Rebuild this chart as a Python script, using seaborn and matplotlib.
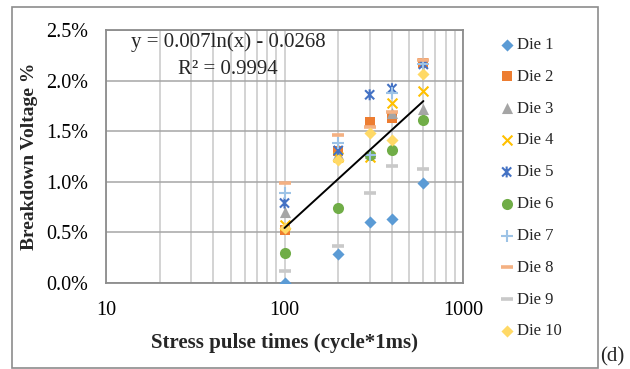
import numpy as np
import pandas as pd
import matplotlib
matplotlib.use("Agg")
import matplotlib.pyplot as plt
import seaborn as sns
from matplotlib.path import Path
from matplotlib.ticker import FuncFormatter, LogLocator, MultipleLocator, NullFormatter
from matplotlib.patches import Rectangle

sns.set_theme(style="white")
plt.rcParams["font.family"] = ["Liberation Serif", "DejaVu Serif"]

# ---- data ----
cycles = [100, 200, 300, 400, 600]
die1 = [0.0000, 0.0029, 0.0060, 0.0063, 0.0099]
die2 = [0.0052, 0.0130, 0.0159, 0.0163, 0.0217]
die3 = [0.0070, 0.0127, 0.0128, 0.0168, 0.0172]
die4 = [0.0057, 0.0125, 0.0125, 0.0178, 0.0190]
die5 = [0.0079, 0.0131, 0.0186, 0.0192, 0.0216]
die6 = [0.0030, 0.0074, 0.0126, 0.0131, 0.0161]
die7 = [0.0089, 0.0138, 0.0126, 0.0188, 0.0216]
die8 = [0.0099, 0.0146, 0.0154, 0.0169, 0.0220]
die9 = [0.0012, 0.0037, 0.0089, 0.0116, 0.0113]
die10 = [0.0054, 0.0122, 0.0148, 0.0141, 0.0207]
die_names = ["Die 1", "Die 2", "Die 3", "Die 4", "Die 5",
             "Die 6", "Die 7", "Die 8", "Die 9", "Die 10"]
trend_a = 0.007
trend_b = -0.0268
trend_range = [100, 600]
eq_text = "y = 0.007ln(x) - 0.0268"
r2_text = "R\u00b2 = 0.9994"
x_label = "Stress pulse times (cycle*1ms)"
y_label = "Breakdown Voltage %"

series = [die1, die2, die3, die4, die5, die6, die7, die8, die9, die10]

asterisk = Path([(-1, -1), (1, 1), (-1, 1), (1, -1), (0, -1.2), (0, 1.2)],
                [Path.MOVETO, Path.LINETO, Path.MOVETO, Path.LINETO, Path.MOVETO, Path.LINETO])

styles = [
    dict(marker="D", color="#5B9BD5", s=38, linewidth=0),
    dict(marker="s", color="#ED7D31", s=60, linewidth=0),
    dict(marker="^", color="#A5A5A5", s=64, linewidth=0),
    dict(marker="x", color="#FFC000", s=50, linewidth=1.5),
    dict(marker=asterisk, color="#4472C4", s=62, linewidth=1.5),
    dict(marker="o", color="#70AD47", s=64, linewidth=0),
    dict(marker="+", color="#9DC3E6", s=64, linewidth=1.5),
    dict(marker="_", color="#F4B183", s=64, linewidth=2.6),
    dict(marker="_", color="#C9C9C9", s=64, linewidth=2.6),
    dict(marker="D", color="#FFD966", s=38, linewidth=0),
]

fig = plt.figure(figsize=(6.3, 3.69), dpi=100)
ax = fig.add_axes([106 / 630, 1 - 283 / 369, 357 / 630, 253 / 369])

for name, vals, st in zip(die_names, series, styles):
    df = pd.DataFrame({"x": cycles, "y": vals})
    sns.scatterplot(data=df, x="x", y="y", ax=ax, label=name, zorder=3, **st)
    coll = ax.collections[-1]
    if st["marker"] is asterisk:
        coll.set_edgecolor(st["color"])
        coll.set_facecolor("none")
        coll.set_linewidth(1.5)

xt = np.linspace(trend_range[0], trend_range[1], 200)
trend_df = pd.DataFrame({"x": xt, "y": trend_a * np.log(xt) + trend_b})
sns.lineplot(data=trend_df, x="x", y="y", ax=ax, color="black", linewidth=1.4, zorder=4)

ax.set_xscale("log")
ax.set_xlim(10, 1000)
ax.set_ylim(0, 0.025)
ax.yaxis.set_major_locator(MultipleLocator(0.005))
ax.yaxis.set_major_formatter(FuncFormatter(lambda v, p: f"{v*100:.1f}%"))
ax.xaxis.set_major_locator(LogLocator(base=10))
ax.xaxis.set_minor_locator(LogLocator(base=10, subs=np.arange(2, 10)))
ax.xaxis.set_minor_formatter(NullFormatter())
ax.xaxis.set_major_formatter(FuncFormatter(lambda v, p: f"{int(round(v))}"))

ax.grid(True, which="major", axis="y", color="#A6A6A6", linewidth=1.1)
ax.grid(True, which="both", axis="x", color="#C8C8C8", linewidth=1.1)
ax.set_axisbelow(True)
for sp in ax.spines.values():
    sp.set_color("#8C8C8C")
    sp.set_linewidth(1.3)
ax.tick_params(axis="both", which="both", length=0, labelsize=14.5, colors="black")
ax.tick_params(axis="x", pad=13)
ax.tick_params(axis="y", pad=13)

ax.set_xlabel(x_label, fontsize=15, fontweight="bold", labelpad=9)
ax.set_ylabel(y_label, fontsize=14, fontweight="bold", labelpad=6)

fig.text(228 / 630, 1 - 42 / 369, eq_text, ha="center", va="center", fontsize=15)
fig.text(228 / 630, 1 - 70 / 369, r2_text, ha="center", va="center", fontsize=15)

handles, labels = ax.get_legend_handles_labels()
leg = ax.legend(handles[:10], labels[:10], loc="upper left",
                bbox_to_anchor=(500 / 630, 1 - 37 / 369), bbox_transform=fig.transFigure,
                frameon=False, fontsize=12, labelspacing=0.95, handlelength=0.8,
                handletextpad=0.2, borderaxespad=0, borderpad=0)

fig.patches.append(Rectangle((12 / 630, 1 - 368 / 369), 586 / 630, 361 / 369,
                             transform=fig.transFigure, fill=False,
                             edgecolor="#8C8C8C", linewidth=1.2))
fig.text(600 / 630, 1 - 357 / 369, "(d)", ha="left", va="center", fontsize=15,
         bbox=dict(facecolor="white", edgecolor="none", pad=1))

fig.savefig("out.png", dpi=100)
